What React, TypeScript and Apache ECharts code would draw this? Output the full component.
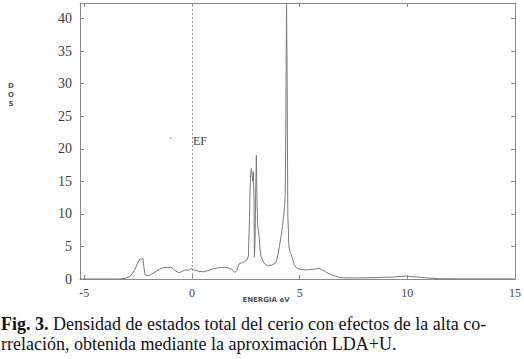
import React, { useEffect, useRef } from "react";
import * as echarts from "echarts";

const energy = [
  -5.2, -4, -3.4, -3.1, -2.9, -2.75, -2.65, -2.5, -2.42, -2.35, -2.28, -2.22, -2.18, -2.0, -1.8, -1.5,
  -1.3, -1.1, -0.95, -0.8, -0.6, -0.45, -0.3, -0.15, -0.05, 0.1, 0.3, 0.55, 0.8, 1.0, 1.3, 1.5, 1.7,
  1.85, 2.0, 2.08, 2.2, 2.35, 2.45, 2.55, 2.62, 2.66, 2.7, 2.73, 2.76, 2.79, 2.82, 2.85, 2.88, 2.9,
  2.93, 2.96, 2.99, 3.02, 3.05, 3.1, 3.15, 3.2, 3.35, 3.55, 3.75, 3.9, 4.0, 4.05, 4.12, 4.2, 4.25,
  4.3, 4.33, 4.36, 4.39, 4.42, 4.45, 4.5, 4.55, 4.6, 4.68, 4.75, 4.85, 5.0, 5.3, 5.6, 5.85, 6.0, 6.2,
  6.5, 6.9, 7.5, 8.5, 9.3, 9.9, 10.3, 10.8, 11.5, 12.5, 15,
];
const dos = [
  0, 0, 0, 0.1, 0.35, 0.9, 1.5, 2.6, 3.1, 3.0, 3.2, 1.5, 0.6, 0.5, 0.9, 1.5,
  1.8, 1.75, 1.8, 1.3, 0.95, 1.2, 1.4, 1.35, 1.6, 1.4, 1.2, 1.1, 1.35, 1.6, 1.75, 1.8, 1.7,
  1.5, 1.0, 1.3, 2.4, 2.5, 2.7, 2.9, 3.5, 8, 14, 16.5, 17.0, 16.2, 15.0, 16.5, 12, 3.4,
  6, 14, 19.0, 12, 8, 7.2, 5, 3.5, 2.4, 2.0, 2.2, 2.5, 3.8, 4.8, 6.2, 8, 9.5,
  11, 13, 25, 42.4, 30, 10, 5, 4.2, 3.8, 3.0, 2.2, 1.7, 1.5, 1.4, 1.5, 1.6, 1.5, 1.1,
  0.6, 0.2, 0.15, 0.2, 0.3, 0.45, 0.35, 0.2, 0.05, 0.02, 0.02,
];
const xTicks = [-5, 0, 5, 10, 15];
const yTicks = [0, 5, 10, 15, 20, 25, 30, 35, 40];
const yAxisLetters = ["D", "O", "S"];
const xAxisTitle = "ENERGIA eV";
const fermiLabel = "EF";
const captionBold = "Fig. 3.";
const captionLine1 = " Densidad de estados total del cerio con efectos de la alta co-";
const captionLine2 = "rrelación, obtenida mediante la aproximación LDA+U.";

const SERIF = "'Liberation Serif', 'Times New Roman', serif";
const SANS = "'DejaVu Sans', 'Liberation Sans', sans-serif";
const FRAME = "#8a8a8a";

export default function App() {
  const ref = useRef<HTMLDivElement>(null);
  useEffect(() => {
    document.body.style.margin = "0";
    if (!ref.current) return;
    const chart = echarts.init(ref.current, null, { renderer: "svg" });
    const frameAxis = {
      axisLine: { show: true, onZero: false, lineStyle: { color: FRAME, width: 1 } },
      splitLine: { show: false },
    };
    chart.setOption({
      animation: false,
      backgroundColor: "#fff",
      grid: { left: 80, right: 9, top: 3, bottom: 80, containLabel: false },
      xAxis: [
        {
          type: "value", min: -5.2, max: 15, position: "bottom", ...frameAxis,
          axisTick: { show: true, inside: true, length: 4, customValues: xTicks, lineStyle: { color: FRAME } },
          axisLabel: { customValues: xTicks, fontFamily: SERIF, fontSize: 12, color: "#444", margin: 8 },
        },
        {
          type: "value", min: -5.2, max: 15, position: "top", ...frameAxis,
          axisTick: { show: true, inside: true, length: 4, customValues: xTicks, lineStyle: { color: FRAME } },
          axisLabel: { show: false },
        },
      ],
      yAxis: [
        {
          type: "value", min: 0, max: 42.4, position: "left", ...frameAxis,
          axisTick: { show: true, inside: true, length: 4, customValues: yTicks, lineStyle: { color: FRAME } },
          axisLabel: { customValues: yTicks, fontFamily: SERIF, fontSize: 14, color: "#3a3a3a", margin: 8 },
        },
        {
          type: "value", min: 0, max: 42.4, position: "right", ...frameAxis,
          axisTick: { show: true, inside: true, length: 4, customValues: yTicks, lineStyle: { color: FRAME } },
          axisLabel: { show: false },
        },
      ],
      series: [
        {
          type: "line",
          data: energy.map((e, i) => [e, dos[i]]),
          showSymbol: false,
          lineStyle: { color: "#7a7a7a", width: 1 },
          markLine: {
            silent: true,
            symbol: "none",
            label: { show: false },
            lineStyle: { type: [2, 2], color: "#9a9a9a", width: 1 },
            data: [{ xAxis: 0 }],
          },
        },
      ],
      graphic: [
        ...yAxisLetters.map((ch, i) => ({
          type: "text",
          x: 11,
          y: 86 + i * 9.2,
          style: { text: ch, fontFamily: SANS, fontSize: 7, fontWeight: "bold", fill: "#555", align: "center", verticalAlign: "middle" },
        })),
        {
          type: "text", x: 266, y: 300,
          style: { text: xAxisTitle, fontFamily: SANS, fontSize: 7, fontWeight: "bold", fill: "#555", align: "center", verticalAlign: "middle" },
        },
        {
          type: "text", x: 193, y: 141,
          style: { text: fermiLabel, fontFamily: SERIF, fontSize: 12, fill: "#444", align: "left", verticalAlign: "middle" },
        },
        {
          type: "line", shape: { x1: 169, y1: 138, x2: 172, y2: 138 }, style: { stroke: "#aaa", lineWidth: 1 },
        },
        {
          type: "text", x: 1, y: 324,
          style: {
            text: "{b|" + captionBold + "}" + captionLine1,
            fontFamily: SERIF, fontSize: 18, fill: "#111", verticalAlign: "middle",
            rich: { b: { fontFamily: SERIF, fontSize: 18, fontWeight: "bold", fill: "#111" } },
          },
        },
        {
          type: "text", x: 1, y: 344,
          style: { text: captionLine2, fontFamily: SERIF, fontSize: 18, fill: "#111", verticalAlign: "middle" },
        },
      ],
    });
    return () => chart.dispose();
  }, []);
  return <div ref={ref} style={{ width: 524, height: 359 }} />;
}
